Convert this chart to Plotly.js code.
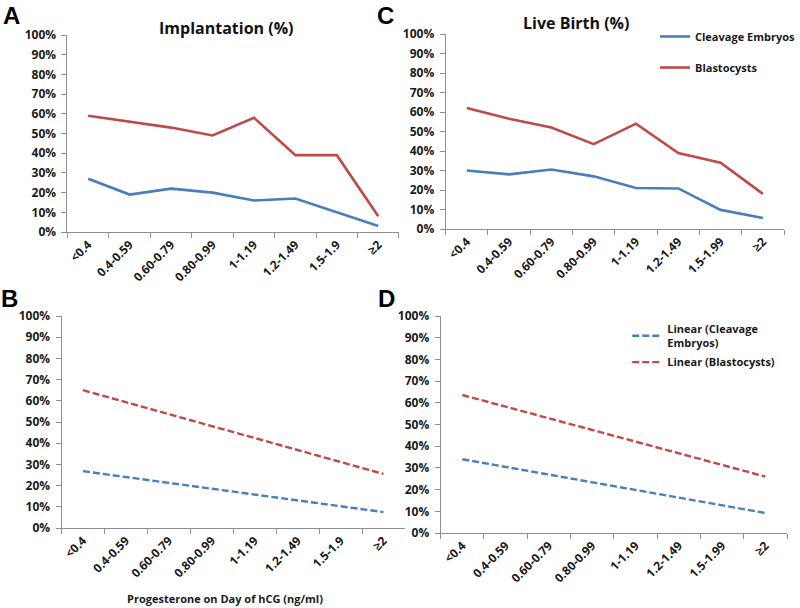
<!DOCTYPE html>
<html>
<head>
<meta charset="utf-8">
<script src="https://cdn.plot.ly/plotly-3.0.1.min.js"></script>
<style>html,body{margin:0;padding:0;background:#fff;} #chart{width:800px;height:608px;}</style>
</head>
<body>
<div id="chart"></div>
<script>
// Categories (progesterone ranges)
const catsImplant = ['<0.4','0.4-0.59','0.60-0.79','0.80-0.99','1-1.19','1.2-1.49','1.5-1.9','≥2'];
const catsLive    = ['<0.4','0.4-0.59','0.60-0.79','0.80-0.99','1-1.19','1.2-1.49','1.5-1.99','≥2'];

// Panel A: Implantation (%)
const implantCleavage = [0.27, 0.19, 0.22, 0.20, 0.16, 0.17, 0.10, 0.03];
const implantBlast    = [0.59, 0.56, 0.53, 0.49, 0.58, 0.39, 0.39, 0.08];

// Panel C: Live Birth (%)
const liveCleavage = [0.30, 0.28, 0.305, 0.27, 0.21, 0.208, 0.098, 0.056];
const liveBlast    = [0.62, 0.565, 0.52, 0.435, 0.54, 0.39, 0.34, 0.18];

// Panel B: linear trends of implantation (end points)
const trendImplantCleavage = [0.268, 0.075];
const trendImplantBlast    = [0.65, 0.255];
// Panel D: linear trends of live birth
const trendLiveCleavage = [0.34, 0.092];
const trendLiveBlast    = [0.636, 0.26];

const BLUE = '#4a7ebb', RED = '#be4b48';
const FONT = 'Open Sans, Liberation Sans, Arial, sans-serif';
const ends = a => [a[0], a[a.length-1]];

const traces = [
  {x: catsImplant, y: implantCleavage, xaxis:'x', yaxis:'y', mode:'lines', line:{color:BLUE,width:2.6}, showlegend:false, name:'Cleavage Embryos'},
  {x: catsImplant, y: implantBlast, xaxis:'x', yaxis:'y', mode:'lines', line:{color:RED,width:2.6}, showlegend:false, name:'Blastocysts'},
  {x: catsLive, y: liveCleavage, xaxis:'x2', yaxis:'y2', mode:'lines', line:{color:BLUE,width:2.6}, name:'Cleavage Embryos', legend:'legend', legendgroup:'a'},
  {x: catsLive, y: liveBlast, xaxis:'x2', yaxis:'y2', mode:'lines', line:{color:RED,width:2.6}, name:'Blastocysts', legend:'legend', legendgroup:'b'},
  {x: ends(catsImplant), y: trendImplantCleavage, xaxis:'x3', yaxis:'y3', mode:'lines', line:{color:BLUE,width:2.4,dash:'7px,3px'}, showlegend:false, name:'Linear (Cleavage Embryos)'},
  {x: ends(catsImplant), y: trendImplantBlast, xaxis:'x3', yaxis:'y3', mode:'lines', line:{color:RED,width:2.4,dash:'7px,3px'}, showlegend:false, name:'Linear (Blastocysts)'},
  {x: ends(catsLive), y: trendLiveCleavage, xaxis:'x4', yaxis:'y4', mode:'lines', line:{color:BLUE,width:2.4,dash:'7px,3px'}, name:'Linear (Cleavage<br>Embryos)', legend:'legend2', legendgroup:'c'},
  {x: ends(catsLive), y: trendLiveBlast, xaxis:'x4', yaxis:'y4', mode:'lines', line:{color:RED,width:2.4,dash:'7px,3px'}, name:'Linear (Blastocysts)', legend:'legend2', legendgroup:'d'}
];

const tickFont = {family: FONT, size: 12, color: '#1a1a1a', weight: 700};
function xax(domain, anchor, cats){
  return {domain, anchor, type:'category', categoryorder:'array', categoryarray:cats, range:[-0.5,7.5],
    showline:true, linecolor:'#8f8f8f', linewidth:1, ticks:'outside', tickson:'boundaries', ticklen:5, tickcolor:'#8f8f8f',
    tickangle:-45, tickfont:tickFont, showgrid:false, zeroline:false, fixedrange:true};
}
function yax(domain, anchor){
  return {domain, anchor, range:[0,1], dtick:0.1, tickformat:'.0%', showline:true, linecolor:'#8f8f8f', linewidth:1,
    ticks:'outside', ticklen:5, tickcolor:'#8f8f8f', tickfont:tickFont, showgrid:false, zeroline:false, fixedrange:true, ticklabelstandoff:3};
}
const W = 800, H = 608;
const px = v => v / W, py = v => (H - v) / H;

const layout = {
  width: W, height: H, margin:{l:0,r:0,t:0,b:0}, paper_bgcolor:'#fff', plot_bgcolor:'#fff',
  font:{family: FONT, color:'#1a1a1a'},
  xaxis:  xax([px(68), px(402)], 'y', catsImplant),
  yaxis:  yax([py(232), py(35)], 'x'),
  xaxis2: xax([px(449), px(790)], 'y2', catsLive),
  yaxis2: yax([py(229), py(34)], 'x2'),
  xaxis3: xax([px(62), px(408)], 'y3', catsImplant),
  yaxis3: yax([py(528), py(316)], 'x3'),
  xaxis4: xax([px(444), px(793)], 'y4', catsLive),
  yaxis4: yax([py(533), py(316)], 'x4'),
  legend: {x: px(660), y: py(22), xanchor:'left', yanchor:'top', bgcolor:'rgba(0,0,0,0)', borderwidth:0,
    font:{family:FONT, size:11, color:'#1a1a1a', weight:700}, traceorder:'grouped', tracegroupgap:12},
  legend2: {x: px(632), y: py(315), xanchor:'left', yanchor:'top', bgcolor:'rgba(0,0,0,0)', borderwidth:0,
    font:{family:FONT, size:11, color:'#1a1a1a', weight:700}, traceorder:'grouped', tracegroupgap:1},
  annotations: [
    {text:'Implantation (%)', x:px(228), y:py(28), xref:'paper', yref:'paper', showarrow:false, xanchor:'center', yanchor:'middle', font:{family:FONT,size:16,weight:700,color:'#111'}},
    {text:'Live Birth (%)', x:px(580), y:py(23), xref:'paper', yref:'paper', showarrow:false, xanchor:'center', yanchor:'middle', font:{family:FONT,size:16,weight:700,color:'#111'}},
    {text:'Progesterone on Day of hCG (ng/ml)', x:px(227), y:py(598), xref:'paper', yref:'paper', showarrow:false, xanchor:'center', yanchor:'middle', font:{family:FONT,size:11,weight:700,color:'#1a1a1a'}},
    {text:'A', x:px(12), y:py(16), xref:'paper', yref:'paper', showarrow:false, xanchor:'center', yanchor:'middle', font:{family:'Liberation Sans, Arial, sans-serif',size:24,weight:700,color:'#000'}},
    {text:'C', x:px(388), y:py(16), xref:'paper', yref:'paper', showarrow:false, xanchor:'center', yanchor:'middle', font:{family:'Liberation Sans, Arial, sans-serif',size:24,weight:700,color:'#000'}},
    {text:'B', x:px(10), y:py(298), xref:'paper', yref:'paper', showarrow:false, xanchor:'center', yanchor:'middle', font:{family:'Liberation Sans, Arial, sans-serif',size:24,weight:700,color:'#000'}},
    {text:'D', x:px(389), y:py(298), xref:'paper', yref:'paper', showarrow:false, xanchor:'center', yanchor:'middle', font:{family:'Liberation Sans, Arial, sans-serif',size:24,weight:700,color:'#000'}}
  ]
};

Plotly.newPlot('chart', traces, layout, {displayModeBar:false, staticPlot:true});
</script>
</body>
</html>
